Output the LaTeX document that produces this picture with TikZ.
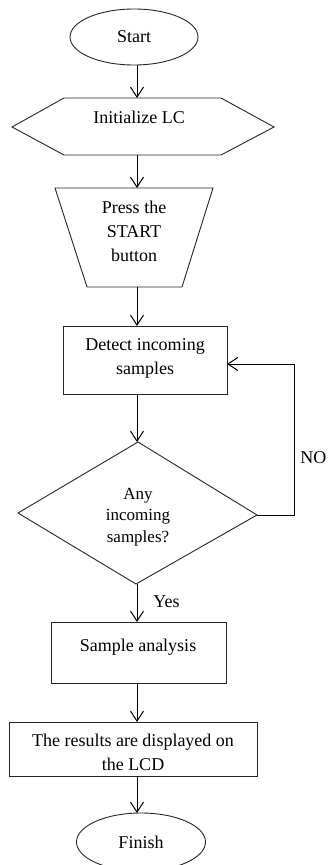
\documentclass[tikz,border=0pt]{standalone}
\usepackage{fontspec}
\setmainfont{Liberation Serif}
\usetikzlibrary{shapes.geometric,arrows.meta}
\begin{document}
\begin{tikzpicture}[x=1pt,y=-1pt,
  line width=0.9pt,
  shapeline/.style={draw=black!85, line width=0.9pt},
  txt/.style={font=\fontsize{18}{24}\selectfont, align=center, inner sep=0pt},
  flow/.style={draw=black, line width=1pt, -{Straight Barb[length=10pt,width=13pt,line width=1pt]}},
  term/.style={ellipse, shapeline, inner sep=0pt, font=\fontsize{18}{24}\selectfont}
]
\useasboundingbox (0,0) rectangle (334,865);
\fill[white] (0,0) rectangle (334,865);

% Start
\node[term, minimum width=128pt, minimum height=56pt] (start) at (134,37) {Start};

% Initialize hexagon
\draw[shapeline] (12,127) -- (64,98) -- (221,98) -- (274,127) -- (221,155) -- (64,155) -- cycle;
\coordinate (initT) at (137,98);
\coordinate (initB) at (137,155);
\node[txt] (init) at (139,117) {Initialize LC};

% Press trapezoid
\draw[shapeline] (55,188) -- (213,188) -- (182,287) -- (87,287) -- cycle;
\coordinate (pressT) at (137,188);
\coordinate (pressB) at (137,287);
\node[txt] (press) at (134,231) {Press the\\START\\button};

% Detect rectangle
\node[shapeline, minimum width=164pt, minimum height=68pt, inner sep=0pt] (detect) at (145,360) {};
\node[txt] at (145,358.5) {Detect incoming\\samples};
\coordinate (detectT) at (137,326);
\coordinate (detectB) at (137,394);
\coordinate (detectR) at (227,364);

% Decision diamond
\draw[shapeline] (138,442) -- (257,515) -- (136,584) -- (18,513) -- cycle;
\coordinate (decT) at (137,442);
\coordinate (decB) at (137,584);
\coordinate (decR) at (257,515);
\coordinate (loopB) at (294,515);
\coordinate (loopT) at (294,364);
\node[txt, font=\fontsize{17}{21.5}\selectfont] (dec) at (138,517) {Any\\incoming\\samples?};

% Sample analysis
\node[shapeline, minimum width=175pt, minimum height=61pt, inner sep=0pt] (sample) at (138.5,652.5) {};
\node[txt] at (138,647) {Sample analysis};
\coordinate (sampleT) at (137,622);
\coordinate (sampleB) at (137,683);

% Results
\node[shapeline, minimum width=248pt, minimum height=54pt, inner sep=0pt] (results) at (133,749) {};
\node[txt] at (133,752) {The results are displayed on\\the LCD};
\coordinate (resultsT) at (137,722);
\coordinate (resultsB) at (137,776);

% Finish
\node[term, minimum width=129pt, minimum height=58pt] (finish) at (141,842) {Finish};
\coordinate (finishT) at (137,813);

% Labels
\node[txt, anchor=west] (no) at (300,458) {NO};
\node[txt, anchor=west] (yes) at (153,602) {Yes};

% Connectors
\draw[flow] (start.south -| initT) -- (initT);
\draw[flow] (initB) -- (pressT);
\draw[flow] (pressB) -- (detectT);
\draw[flow] (detectB) -- (decT);
\draw[flow] (decB) -- (sampleT);
\draw[flow] (sampleB) -- (resultsT);
\draw[flow] (resultsB) -- (finishT);
\draw[flow] (decR) -- (loopB) -- (loopT) -- (detectR);
\end{tikzpicture}
\end{document}
